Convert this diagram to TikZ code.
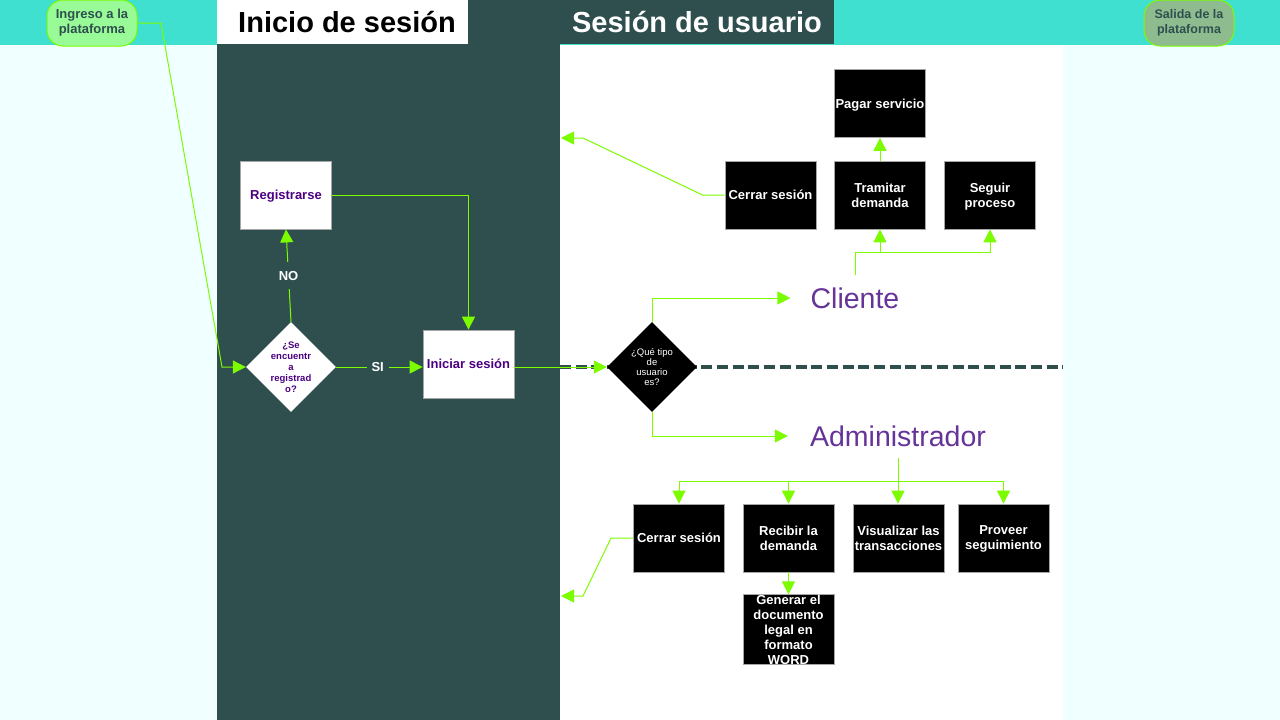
\documentclass[tikz,border=0pt]{standalone}
\usepackage{fontspec}
\setmainfont{Liberation Sans}
\usetikzlibrary{arrows.meta,shapes.geometric}
\definecolor{dslate}{HTML}{2F4F4F}
\definecolor{turq}{HTML}{40E0D0}
\definecolor{azure}{HTML}{F0FFFF}
\definecolor{lgreen}{HTML}{7CFC00}
\definecolor{pgreen}{HTML}{98FB98}
\definecolor{dsgreen}{HTML}{8FBC8F}
\definecolor{indig}{HTML}{4B0082}
\definecolor{rpurple}{HTML}{663399}
\newcommand\myfs[2]{\fontsize{#1}{#2}\selectfont}
\begin{document}
\begin{tikzpicture}[x=1pt,y=-1pt,
  wbox/.style={draw=gray!70, line width=0.8pt, fill=white, minimum width=91, minimum height=68, inner sep=0, text depth=0pt, font=\bfseries\myfs{13}{15}, text=indig, align=center},
  bbox/.style={draw=gray!70, line width=0.8pt, fill=black, minimum width=91, minimum height=68, inner sep=0, text depth=0pt, font=\bfseries\myfs{13}{15}, text=white, align=center},
  pill/.style={draw=lgreen, line width=1pt, rounded corners=16, minimum width=90, minimum height=46, inner sep=0, font=\bfseries\myfs{13}{15}, text=dslate, align=center},
  dia/.style={diamond, minimum width=90, minimum height=90, inner sep=0},
  conn/.style={draw=lgreen, line width=1pt, -{Triangle[length=13pt,width=13pt]}},
  plain/.style={draw=lgreen, line width=1pt},
  lbl/.style={fill=dslate, text=white, font=\bfseries\myfs{13}{15}, inner sep=5},
  role/.style={text=rpurple, font=\myfs{28.5}{30}, inner ysep=2}
]
\useasboundingbox (0,0) rectangle (1280,720);
% backgrounds
\fill[azure] (0,0) rectangle (1280,720);
\fill[turq] (0,0) rectangle (1280,45);
\fill[dslate] (217,44) rectangle (560,720);
\fill[white] (560,45) rectangle (1063,720);
\fill[white] (217,0) rectangle (468,44);
\fill[dslate] (468,0) rectangle (834,44);
\node[font=\bfseries\myfs{29}{31}, text=black] (t1) at (347,22) {Inicio de sesión};
\node[font=\bfseries\myfs{29}{31}, text=white] (t2) at (697,22) {Sesión de usuario};
% pills
\node[pill, fill=pgreen] (ing) at (92,23) {Ingreso a la\\plataforma};
\node[pill, fill=dsgreen, font=\bfseries\myfs{12.5}{15}] (sal) at (1189,23) {Salida de la\\plataforma};
% dashed separator
\draw[dslate, line width=3.5pt, dash pattern=on 11pt off 4.7pt] (560,367) -- (1063,367);
% left column
\node[wbox] (reg) at (286,195) {Registrarse};
\node[dia, fill=white] (d1) at (291,367) {};
\node[font=\bfseries\myfs{9.5}{11}, text=indig, align=center] (d1t) at (d1) {¿Se\\encuentr\\a\\registrad\\o?};
\node[wbox, minimum height=68] (ini) at (468.5,364) {Iniciar sesión};
% user session
\node[dia, fill=black] (d2) at (652,367) {};
\node[font=\myfs{9.5}{10.3}, text=white, align=center] (d2t) at (d2) {¿Qué tipo\\de\\usuario\\es?};
\node[role, inner xsep=20] (cli) at (855,298) {Cliente};
\node[role, inner xsep=22] (adm) at (898,436) {Administrador};
% client boxes
\node[bbox] (ccer) at (770.5,195) {Cerrar sesión};
\node[bbox] (tram) at (880,195) {Tramitar\\demanda};
\node[bbox] (seg) at (990,195) {Seguir\\proceso};
\node[bbox] (pag) at (880,103.5) {Pagar servicio};
% admin boxes
\node[bbox] (acer) at (679,538) {Cerrar sesión};
\node[bbox] (rec) at (788.5,538) {Recibir la\\demanda};
\node[bbox] (vis) at (898.5,538) {Visualizar las\\transacciones};
\node[bbox] (pro) at (1003.5,538) {Proveer\\seguimiento};
\node[bbox] (gen) at (788.5,629.5) {Generar el\\documento\\legal en\\formato\\WORD};
% coordinates
\coordinate (clitop) at (855,275);
\coordinate (clibr) at (855,252);
\coordinate (admbot) at (898,458);
\coordinate (admbr) at (898,481);
\coordinate (ret1) at (561,138);
\coordinate (ret2) at (561,596);
% connectors
\draw[conn] (ing.east) -- (161,23) -- (222,367) -- (d1.west);
\draw[conn] (d1.north) -- node[lbl, inner ysep=9] {NO} (reg.south);
\draw[conn] (d1.east) -- node[lbl, pos=0.48] {SI} (ini.west |- d1.east);
\draw[conn] (reg.east) -| (ini.north);
\draw[conn] (ini.east |- d2.west) -- (d2.west);
\draw[conn] (d2.north) |- (cli.west);
\draw[conn] (d2.south) |- (adm.west);
\draw[plain] (clitop) -- (clibr);
\draw[conn] (clibr) -| (tram.south);
\draw[conn] (clibr) -| (seg.south);
\draw[conn] (tram.north) -- (pag.south);
\draw[conn] (ccer.west) -- ++(-22,0) -- (583,138) -- (ret1);
\draw[plain] (admbot) -- (admbr);
\draw[conn] (admbr) -| (acer.north);
\draw[conn] (admbr) -| (rec.north);
\draw[conn] (admbr) -- (vis.north -| admbr);
\draw[conn] (admbr) -| (pro.north);
\draw[conn] (rec.south) -- (gen.north);
\draw[conn] (acer.west) -- ++(-22,0) -- (583,596) -- (ret2);
\end{tikzpicture}
\end{document}
